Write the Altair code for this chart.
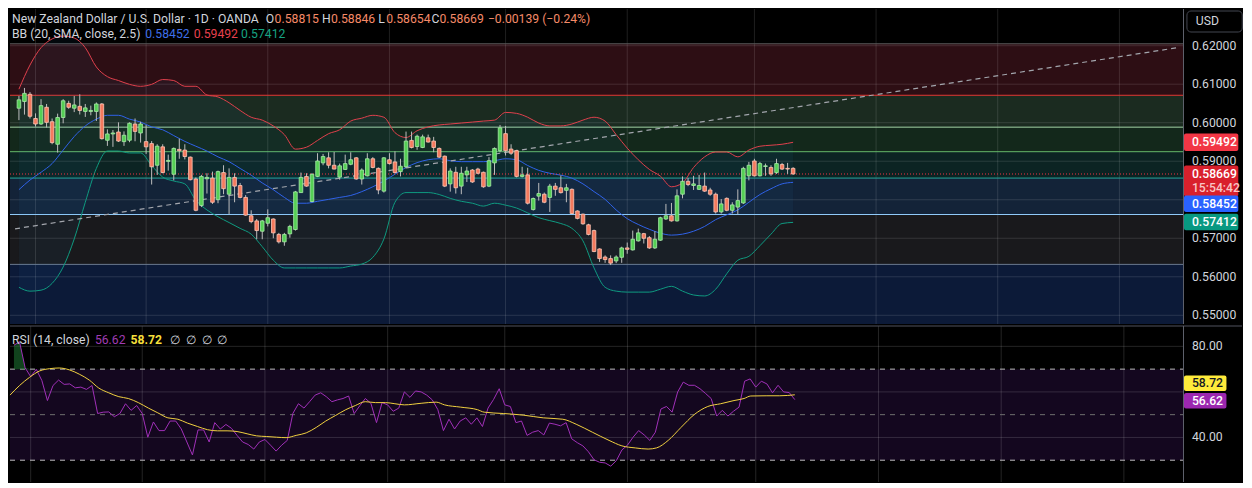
import altair as alt
import pandas as pd

# ---------------- data ----------------
opens = [0.60377, 0.60552, 0.60738, 0.60110, 0.59967, 0.60401, 0.60026, 0.59441, 0.60136, 0.60502,
         0.60377, 0.60426, 0.60293, 0.60293, 0.60293, 0.60487, 0.59545, 0.59709, 0.59759, 0.59509,
         0.59545, 0.59967, 0.59734, 0.59509, 0.59458, 0.58896, 0.59374, 0.58997, 0.58663, 0.59308,
         0.59290, 0.59107, 0.58539, 0.57852, 0.58545, 0.58563, 0.58002, 0.58706, 0.58144, 0.58580,
         0.58370, 0.58061, 0.57584, 0.57451, 0.57183, 0.57390, 0.57501, 0.57100, 0.56907, 0.57115,
         0.57228, 0.58186, 0.58606, 0.57953, 0.58606, 0.58957, 0.59089, 0.58896, 0.58588, 0.58788,
         0.58921, 0.59089, 0.58539, 0.58621, 0.59064, 0.58815, 0.58224, 0.59039, 0.58982, 0.58731,
         0.58856, 0.59541, 0.59383, 0.59358, 0.59608, 0.59524, 0.59333, 0.59132, 0.58412, 0.58713,
         0.58354, 0.58646, 0.58772, 0.58797, 0.58713, 0.58354, 0.58957, 0.59273, 0.59717, 0.59316,
         0.59273, 0.58606, 0.58646, 0.57745, 0.58094, 0.58144, 0.58061, 0.58354, 0.58311, 0.58244,
         0.58270, 0.57709, 0.57626, 0.57350, 0.57200, 0.56723, 0.56513, 0.56473, 0.56412, 0.56506,
         0.56749, 0.56698, 0.56932, 0.57120, 0.57015, 0.56749, 0.56950, 0.57501, 0.57584, 0.57451,
         0.58144, 0.58479, 0.58370, 0.58270, 0.58354, 0.58254, 0.58144, 0.57684, 0.58036, 0.57726,
         0.57810, 0.57917, 0.58621, 0.59007, 0.58621, 0.58864, 0.58839, 0.58706, 0.58914, 0.58815,
         0.58815]
highs = [0.60695, 0.60903, 0.60795, 0.60243, 0.60612, 0.60487, 0.60110, 0.60236, 0.60612, 0.60570,
         0.60695, 0.60738, 0.60487, 0.60444, 0.60527, 0.60512, 0.59828, 0.59810, 0.60010, 0.59775,
         0.60010, 0.60110, 0.60026, 0.59942, 0.59524, 0.59441, 0.59441, 0.59172, 0.59358, 0.59587,
         0.59441, 0.59122, 0.58580, 0.58646, 0.58688, 0.58731, 0.58756, 0.58896, 0.58815, 0.58688,
         0.58437, 0.58121, 0.57726, 0.57501, 0.57476, 0.57751, 0.57516, 0.57140, 0.57140, 0.57350,
         0.58229, 0.58706, 0.58688, 0.58688, 0.59208, 0.59190, 0.59233, 0.59240, 0.58939, 0.59172,
         0.59233, 0.59107, 0.58815, 0.59208, 0.59107, 0.58839, 0.59107, 0.59208, 0.59258, 0.59064,
         0.59770, 0.59770, 0.59691, 0.59691, 0.59691, 0.59633, 0.59358, 0.59148, 0.58815, 0.58856,
         0.58856, 0.58856, 0.58797, 0.58831, 0.58731, 0.59107, 0.59358, 0.59942, 0.59917, 0.59441,
         0.59298, 0.58856, 0.58831, 0.58057, 0.58437, 0.58186, 0.58412, 0.58437, 0.58631, 0.58412,
         0.58295, 0.57726, 0.57642, 0.57376, 0.57225, 0.56738, 0.56556, 0.56556, 0.56556, 0.56781,
         0.56889, 0.57200, 0.57250, 0.57140, 0.57058, 0.57183, 0.57559, 0.57892, 0.57917, 0.58270,
         0.58606, 0.58563, 0.58621, 0.58646, 0.58706, 0.58311, 0.58186, 0.58018, 0.58061, 0.57935,
         0.58270, 0.58856, 0.58982, 0.59064, 0.58982, 0.58939, 0.58896, 0.59064, 0.58957, 0.58957,
         0.58846]
lows = [0.60068, 0.60211, 0.60110, 0.59899, 0.59942, 0.59875, 0.59441, 0.59224, 0.59985, 0.60361,
        0.60276, 0.60214, 0.60151, 0.60193, 0.60043, 0.59562, 0.59399, 0.59374, 0.59499, 0.59399,
        0.59494, 0.59519, 0.59484, 0.59190, 0.58395, 0.58645, 0.58688, 0.58756, 0.58504, 0.59064,
        0.59047, 0.58504, 0.57701, 0.57810, 0.58161, 0.57892, 0.57910, 0.58144, 0.57621, 0.57935,
        0.58036, 0.57584, 0.57390, 0.56974, 0.56974, 0.57308, 0.57000, 0.56865, 0.56806, 0.57015,
        0.57200, 0.58180, 0.58337, 0.57935, 0.58588, 0.58896, 0.58815, 0.58790, 0.58521, 0.58771,
        0.58896, 0.58521, 0.58395, 0.58606, 0.58815, 0.58144, 0.58186, 0.58914, 0.58688, 0.58606,
        0.58815, 0.59333, 0.59298, 0.59340, 0.59484, 0.59233, 0.59082, 0.58329, 0.58211, 0.58161,
        0.58144, 0.58462, 0.58437, 0.58663, 0.58311, 0.58329, 0.58646, 0.59233, 0.59148, 0.59165,
        0.58580, 0.58580, 0.57877, 0.57720, 0.57978, 0.57910, 0.57684, 0.58103, 0.58161, 0.57935,
        0.57627, 0.57491, 0.57350, 0.57075, 0.56638, 0.56387, 0.56362, 0.56304, 0.56355, 0.56362,
        0.56598, 0.56681, 0.56914, 0.56864, 0.56723, 0.56723, 0.56932, 0.57476, 0.57433, 0.57433,
        0.58036, 0.58354, 0.58254, 0.58254, 0.58204, 0.58103, 0.57642, 0.57642, 0.57701, 0.57642,
        0.57619, 0.57892, 0.58504, 0.58606, 0.58606, 0.58621, 0.58621, 0.58671, 0.58772, 0.58671,
        0.58654]
closes = [0.60595, 0.60763, 0.60168, 0.59967, 0.60444, 0.60010, 0.59484, 0.60136, 0.60570, 0.60401,
          0.60462, 0.60319, 0.60386, 0.60319, 0.60487, 0.59587, 0.59709, 0.59734, 0.59524, 0.59675,
          0.59985, 0.59775, 0.59967, 0.59374, 0.58856, 0.59391, 0.58706, 0.59022, 0.59333, 0.59273,
          0.59122, 0.58521, 0.57726, 0.58606, 0.58580, 0.57935, 0.58731, 0.58287, 0.58580, 0.58354,
          0.58061, 0.57601, 0.57433, 0.57200, 0.57451, 0.57533, 0.57140, 0.56907, 0.57100, 0.57308,
          0.58204, 0.58580, 0.58354, 0.58663, 0.59007, 0.59122, 0.58896, 0.58797, 0.58881, 0.58939,
          0.59039, 0.58539, 0.58772, 0.59064, 0.58839, 0.58254, 0.59089, 0.58939, 0.58706, 0.58871,
          0.59524, 0.59358, 0.59649, 0.59633, 0.59499, 0.59358, 0.59107, 0.58354, 0.58746, 0.58311,
          0.58688, 0.58746, 0.58462, 0.58688, 0.58337, 0.59014, 0.59333, 0.59868, 0.59273, 0.59208,
          0.58606, 0.58646, 0.57910, 0.58032, 0.58161, 0.57935, 0.58354, 0.58270, 0.58186, 0.58311,
          0.57642, 0.57516, 0.57376, 0.57100, 0.56656, 0.56473, 0.56447, 0.56355, 0.56513, 0.56749,
          0.56713, 0.56975, 0.57140, 0.57000, 0.56749, 0.56975, 0.57533, 0.57584, 0.57451, 0.58103,
          0.58479, 0.58395, 0.58412, 0.58370, 0.58224, 0.58144, 0.57684, 0.57892, 0.57726, 0.57867,
          0.57978, 0.58815, 0.58896, 0.58621, 0.58939, 0.58881, 0.58671, 0.58939, 0.58797, 0.58797,
          0.58669]

bb_idx = list(range(0, 141, 2))
bb_upper = [0.60871, 0.61498, 0.61949, 0.62175, 0.62250, 0.62200, 0.61949, 0.61448, 0.61197, 0.61096,
            0.60996, 0.60946, 0.60996, 0.61122, 0.61096, 0.60946, 0.60946, 0.60720, 0.60670, 0.60519,
            0.60319, 0.60143, 0.60068, 0.59917, 0.59691, 0.59315, 0.59365, 0.59541, 0.59716, 0.59817,
            0.60043, 0.60118, 0.60193, 0.60143, 0.59742, 0.59616, 0.59792, 0.59892, 0.59942, 0.59967,
            0.59992, 0.60017, 0.60043, 0.60068, 0.60268, 0.60243, 0.60143, 0.59992, 0.59917, 0.59917,
            0.59967, 0.60068, 0.60143, 0.60043, 0.59691, 0.59340, 0.59039, 0.58788, 0.58613, 0.58337,
            0.58437, 0.58838, 0.59114, 0.59240, 0.59240, 0.59114, 0.59290, 0.59390, 0.59416, 0.59441,
            0.59492]
bb_mid = [0.58261, 0.58512, 0.58713, 0.58939, 0.59290, 0.59641, 0.59917, 0.60093, 0.60193, 0.60193,
          0.60093, 0.60018, 0.59892, 0.59817, 0.59666, 0.59516, 0.59390, 0.59265, 0.59114, 0.58989,
          0.58813, 0.58638, 0.58437, 0.58261, 0.58061, 0.57910, 0.57910, 0.57960, 0.58010, 0.58061,
          0.58111, 0.58211, 0.58337, 0.58487, 0.58663, 0.58838, 0.58964, 0.59039, 0.59064, 0.59014,
          0.58989, 0.58989, 0.58989, 0.59014, 0.59064, 0.59039, 0.58889, 0.58763, 0.58688, 0.58638,
          0.58562, 0.58412, 0.58211, 0.58010, 0.57735, 0.57509, 0.57358, 0.57233, 0.57132, 0.57082,
          0.57107, 0.57183, 0.57308, 0.57484, 0.57609, 0.57735, 0.57935, 0.58136, 0.58286, 0.58412,
          0.58452]
bb_lower = [0.55727, 0.55627, 0.55652, 0.55828, 0.56254, 0.56982, 0.57935, 0.58813, 0.59265, 0.59265,
            0.59215, 0.59215, 0.58889, 0.58588, 0.58487, 0.58412, 0.57985, 0.57735, 0.57559, 0.57408,
            0.57257, 0.57107, 0.56781, 0.56430, 0.56229, 0.56229, 0.56229, 0.56229, 0.56229, 0.56229,
            0.56279, 0.56330, 0.56505, 0.56982, 0.57935, 0.58186, 0.58186, 0.58186, 0.58136, 0.58036,
            0.57960, 0.57910, 0.57835, 0.57910, 0.57860, 0.57785, 0.57659, 0.57534, 0.57458, 0.57383,
            0.57257, 0.56932, 0.56229, 0.55727, 0.55627, 0.55602, 0.55602, 0.55602, 0.55677, 0.55752,
            0.55627, 0.55527, 0.55502, 0.55677, 0.56079, 0.56430, 0.56531, 0.56807, 0.57107, 0.57383,
            0.57412]

rsi_vals = [80.5, 82, 70.6, 66.7, 69.9, 65, 56.2, 62.8, 65.2, 63.3,
            63.5, 61.8, 62.1, 61.1, 62.8, 50.5, 51.1, 51.2, 49.1, 50.5,
            54.8, 51.9, 54, 50.5, 40.1, 46.8, 43, 43, 47.2, 47.2,
            43.7, 38, 32.3, 43.3, 43.3, 38, 46.5, 43.7, 45.7, 44,
            40.9, 38, 36.9, 34.9, 38, 39.1, 36.6, 34, 36.6, 38.7,
            50.5, 54.8, 52.9, 55.7, 58.6, 59.6, 57.9, 55.7, 56.5, 57.1,
            58.2, 50.5, 53.9, 57.1, 55, 46.5, 55.3, 54.3, 51.5, 52.9,
            60, 57.6, 60.4, 60, 58.6, 56.5, 52.2, 43, 48, 43.7,
            47.2, 48.6, 45.8, 48.6, 44.8, 52.9, 56.7, 61.4, 54.3, 53.6,
            46.5, 47.2, 40.9, 42.3, 43, 41.1, 46.3, 45.8, 45.1, 46.5,
            39.4, 37.7, 36.3, 33.7, 30.2, 29.1, 28.8, 27.4, 29.8, 34.5,
            36.6, 40.1, 43, 41.1, 38.7, 42.3, 52.5, 53.6, 51.1, 60,
            64.3, 62.9, 62.9, 61.4, 59.3, 57.1, 49.4, 51.9, 49.4, 51.5,
            53.3, 64.7, 65.7, 62.1, 64.7, 63.5, 59.6, 62.9, 60, 59.7,
            56.62]
rsi_ma_idx = [-0.7, 1, 2.8, 4.6, 6.4, 8.1, 9.9, 11.7, 13.5, 15.2, 17, 18.8, 20.5, 22.3, 24.1, 25.8,
              27.6, 29.4, 31.1, 32.9, 34.7, 36.5, 38.2, 40, 41.8, 43.5, 45.3, 47.1, 48.8, 50.6, 52.4,
              54.2, 55.9, 57.7, 59.5, 61.2, 63, 64.8, 66.6, 68.3, 70, 73, 75.7, 77.2, 80.1, 83.1, 84.3,
              87.8, 91.3, 94.9, 98.4, 100.8, 103.7, 106.7, 109, 111.4, 113.7, 115.2, 117.3, 119.6, 122,
              124.4, 126.7, 129.1, 130.9, 132.1, 135, 137.3, 140]
rsi_ma_vals = [58.6, 62.8, 66.4, 69.2, 70.2, 70.5, 69.7, 67.8, 65.2, 61.7, 59.6, 57.9, 57.1, 55.3, 52.9,
               50.8, 48.6, 48, 46.3, 44.8, 43.4, 42.9, 42.9, 42.6, 41.6, 40.7, 40.4, 40.1, 39.9, 40.9, 42,
               44.4, 47.2, 49.7, 52.2, 54, 55.7, 55.3, 55.3, 54.8, 54.3, 55, 55.5, 54.3, 53.3, 52.2, 51.1,
               50.5, 49.8, 48.6, 48, 45.8, 42.3, 38.7, 36.3, 35.4, 34.9, 35.4, 38.7, 44.4, 50.1, 53.6,
               54.8, 56.2, 57.1, 58.2, 58.3, 58.3, 58.72]

zone_levels = [0.62050, 0.60713, 0.59885, 0.59248, 0.58563, 0.57617, 0.56322]
trend_idx = [-0.7, 209.5]
trend_price = [0.57245, 0.61949]
price_grid = [0.55, 0.56, 0.57, 0.58, 0.59, 0.60, 0.61, 0.62]
price_labels = [0.55, 0.56, 0.57, 0.59, 0.60, 0.61, 0.62]
month_idx = [3, 23, 45, 67, 88, 110, 133, 155, 177, 199]
rsi_grid = [40, 60, 80]
rsi_labels = [40, 80]
rsi_bands = [70, 50, 30]
title_text = "New Zealand Dollar / U.S. Dollar · 1D · OANDA"
change_text = "\u22120.00139 (\u22120.24%)"
bb_text = "BB (20, SMA, close, 2.5)"
rsi_text = "RSI (14, close)"
clock_text = "15:54:42"

# ---------------- layout / style ----------------
FONT = "Roboto"
FS = 12.2
W_TOTAL = 1236
PW, PH, RH = 1173, 315, 156
SX, SYP, SYR = PW / 1188, PH / 326, RH / 161


def px(v):
    return v * SX


X_DOM = [-0.71, 209.6]
P_DOM = [0.54774, 0.62953]
R_DOM = [20.43, 88.94]
xs = alt.Scale(domain=X_DOM, nice=False, zero=False)
ys = alt.Scale(domain=P_DOM, nice=False, zero=False)
rs = alt.Scale(domain=R_DOM, nice=False, zero=False)

TXT = "#d1d4dc"
AXIS_LINE = "#5d606b"
UP, DOWN = "#55cf55", "#f47a5e"
UP_EDGE, DOWN_EDGE = "#a8eca8", "#ffc6b5"
ONE = pd.DataFrame({"k": [0]})


def label(s, x, y, color, size=FS, weight="normal"):
    return alt.Chart(ONE).mark_text(
        text=s, align="left", baseline="middle", font=FONT, fontSize=size,
        fontWeight=weight, color=color
    ).encode(x=alt.value(x), y=alt.value(y))


def tick_labels(values, scale, fmt):
    d = pd.DataFrame({"v": values})
    return alt.Chart(d).transform_calculate(
        t=f"format(datum.v, '{fmt}')"
    ).mark_text(align="left", baseline="middle", font=FONT, fontSize=FS, color=TXT).encode(
        x=alt.value(PW + 9), y=alt.Y("v:Q", scale=scale, axis=None), text="t:N")


def axis_line(h):
    return alt.Chart(ONE).mark_rule(color=AXIS_LINE, strokeWidth=1).encode(
        x=alt.value(PW + 0.5), y=alt.value(0), y2=alt.value(h))


# ---------------- price panel ----------------
zone_fill = ["#2d0e14", "#1b2b20", "#13281b", "#0c2423", "#132338", "#19191c", "#0c1a38"]
zone_line = ["#5a5a5a", "#e53935", "#a5d6a7", "#66bb6a", "#26a69a", "#90caf9", "#6b7a90"]
zdf = pd.DataFrame({
    "top": zone_levels,
    "bottom": zone_levels[1:] + [P_DOM[0]],
    "fill": zone_fill,
    "line": zone_line,
})

zones = alt.Chart(zdf).mark_rect().encode(
    x=alt.value(0), x2=alt.value(PW),
    y=alt.Y("top:Q", scale=ys, axis=None), y2="bottom:Q",
    fill=alt.Fill("fill:N", scale=None),
)
hgrid = alt.Chart(pd.DataFrame({"p": price_grid})).mark_rule(
    color="white", opacity=0.12, strokeWidth=1
).encode(y=alt.Y("p:Q", scale=ys, axis=None), x=alt.value(0), x2=alt.value(PW))
vgrid = alt.Chart(pd.DataFrame({"m": month_idx})).mark_rule(
    color="white", opacity=0.12, strokeWidth=1
).encode(x=alt.X("m:Q", scale=xs, axis=None), y=alt.value(0), y2=alt.value(PH))
zlines = alt.Chart(zdf).mark_rule(strokeWidth=1).encode(
    y=alt.Y("top:Q", scale=ys, axis=None), x=alt.value(0), x2=alt.value(PW),
    color=alt.Color("line:N", scale=None),
)

bdf = pd.DataFrame({"i": bb_idx, "up": bb_upper, "mid": bb_mid, "lo": bb_lower})
bb_fill = alt.Chart(bdf).mark_area(color="#2196f3", opacity=0.05, interpolate="monotone").encode(
    x=alt.X("i:Q", scale=xs, axis=None), y=alt.Y("up:Q", scale=ys, axis=None), y2="lo:Q")


def bb_line(field, color):
    return alt.Chart(bdf).mark_line(color=color, strokeWidth=1, interpolate="monotone").encode(
        x=alt.X("i:Q", scale=xs, axis=None), y=alt.Y(f"{field}:Q", scale=ys, axis=None))


trend = alt.Chart(pd.DataFrame({"i": trend_idx, "p": trend_price})).mark_line(
    color="#a3a6ad", strokeWidth=1.2, strokeDash=[5, 4]
).encode(x=alt.X("i:Q", scale=xs, axis=None), y=alt.Y("p:Q", scale=ys, axis=None))

pline = alt.Chart(pd.DataFrame({"p": [closes[-1]]})).mark_rule(
    color="#f23645", strokeWidth=1, strokeDash=[1, 2]
).encode(y=alt.Y("p:Q", scale=ys, axis=None), x=alt.value(0), x2=alt.value(PW))

cdf = pd.DataFrame({"i": list(range(len(opens))), "open": opens, "high": highs,
                    "low": lows, "close": closes})
cdf["dir"] = ["up" if c >= o else "down" for o, c in zip(opens, closes)]

wicks = alt.Chart(cdf).mark_rule(color="#bdbdbd", strokeWidth=1).encode(
    x=alt.X("i:Q", scale=xs, axis=None), y=alt.Y("high:Q", scale=ys, axis=None), y2="low:Q")
bodies = alt.Chart(cdf).mark_bar(size=3.6, strokeWidth=0.8).encode(
    x=alt.X("i:Q", scale=xs, axis=None),
    y=alt.Y("open:Q", scale=ys, axis=None), y2="close:Q",
    fill=alt.Fill("dir:N", scale=alt.Scale(domain=["up", "down"], range=[UP, DOWN]), legend=None),
    stroke=alt.Stroke("dir:N", scale=alt.Scale(domain=["up", "down"], range=[UP_EDGE, DOWN_EDGE]),
                      legend=None),
)

y1, y2 = 10 * SYP, 26 * SYP
ohlc_col = "#f58a68"
legend_layers = [
    label(title_text, px(2), y1, TXT),
    label("O", px(259), y1, TXT), label(f"{opens[-1]:.5f}", px(268), y1, ohlc_col),
    label("H", px(316), y1, TXT), label(f"{highs[-1]:.5f}", px(325), y1, ohlc_col),
    label("L", px(373), y1, TXT), label(f"{lows[-1]:.5f}", px(381), y1, ohlc_col),
    label("C", px(427), y1, TXT), label(f"{closes[-1]:.5f}", px(435), y1, ohlc_col),
    label(change_text, px(484), y1, ohlc_col),
    label(bb_text, px(2), y2, TXT),
    label(f"{bb_mid[-1]:.5f}", px(137), y2, "#3f6fe8"),
    label(f"{bb_upper[-1]:.5f}", px(186), y2, "#e8404e"),
    label(f"{bb_lower[-1]:.5f}", px(234), y2, "#17a383"),
]

usd_box = alt.Chart(ONE).mark_rect(fill="#000000", stroke="#434651", strokeWidth=1,
                                   cornerRadius=4).encode(
    x=alt.value(px(1192)), x2=alt.value(px(1248)), y=alt.value(2), y2=alt.value(23))
usd_txt = label("USD", px(1201), 12.5 * SYP, TXT, size=FS)


def price_box(value, fill, top, bot):
    d = pd.DataFrame({"p": [value]})
    return alt.Chart(d).mark_rect(fill=fill, yOffset=top * SYP, y2Offset=bot * SYP,
                                  cornerRadius=2).encode(
        x=alt.value(PW + 1), x2=alt.value(px(1244)),
        y=alt.Y("p:Q", scale=ys, axis=None), y2="p:Q")


def price_box_text(value, s, shift, color="#ffffff"):
    d = pd.DataFrame({"p": [value]})
    return alt.Chart(d).mark_text(text=s, align="left", baseline="middle", font=FONT,
                                  fontSize=FS, fontWeight=500, color=color,
                                  yOffset=shift * SYP).encode(
        x=alt.value(px(1197)), y=alt.Y("p:Q", scale=ys, axis=None))


box_layers = [
    price_box(bb_upper[-1], "#f23645", -9, 9),
    price_box_text(bb_upper[-1], f"{bb_upper[-1]:.5f}", 0),
    price_box(closes[-1], "#d9202c", -8.8, 23.2),
    price_box_text(closes[-1], f"{closes[-1]:.5f}", 0.2),
    price_box_text(closes[-1], clock_text, 14.2, "#f8c4c4"),
    price_box(bb_mid[-1], "#2962ff", 13.6, 30.6),
    price_box_text(bb_mid[-1], f"{bb_mid[-1]:.5f}", 22.1),
    price_box(bb_lower[-1], "#089981", -8.9, 8.1),
    price_box_text(bb_lower[-1], f"{bb_lower[-1]:.5f}", -0.4),
]

price_panel = alt.layer(
    zones, hgrid, vgrid, zlines, bb_fill,
    bb_line("up", "#e0404c"), bb_line("mid", "#2f62e8"), bb_line("lo", "#0f9a80"),
    trend, pline, wicks, bodies, *legend_layers, usd_box, usd_txt,
    axis_line(PH), tick_labels(price_labels, ys, ".5f"), *box_layers
).properties(width=PW, height=PH)

# ---------------- RSI panel ----------------
band = alt.Chart(pd.DataFrame({"a": [rsi_bands[0]], "b": [rsi_bands[2]]})).mark_rect(
    fill="#14071f").encode(
    x=alt.value(0), x2=alt.value(PW), y=alt.Y("a:Q", scale=rs, axis=None), y2="b:Q")
r_hgrid = alt.Chart(pd.DataFrame({"v": rsi_grid})).mark_rule(
    color="white", opacity=0.14, strokeWidth=1
).encode(y=alt.Y("v:Q", scale=rs, axis=None), x=alt.value(0), x2=alt.value(PW))
r_vgrid = alt.Chart(pd.DataFrame({"m": month_idx})).mark_rule(
    color="white", opacity=0.14, strokeWidth=1
).encode(x=alt.X("m:Q", scale=xs, axis=None), y=alt.value(0), y2=alt.value(RH))
ddf = pd.DataFrame({"v": rsi_bands, "c": ["#bdbdbd", "#6f6f6f", "#bdbdbd"]})
dashes = alt.Chart(ddf).mark_rule(strokeWidth=1, strokeDash=[5, 5]).encode(
    y=alt.Y("v:Q", scale=rs, axis=None), x=alt.value(0), x2=alt.value(PW),
    color=alt.Color("c:N", scale=None))

rdf = pd.DataFrame({"i": list(range(len(rsi_vals))), "rsi": rsi_vals})
ob_fill = alt.Chart(rdf).transform_calculate(
    ob="max(datum.rsi, 70)", base="70"
).mark_area(color="#1f7a34", opacity=0.55).encode(
    x=alt.X("i:Q", scale=xs, axis=None), y=alt.Y("ob:Q", scale=rs, axis=None), y2="base:Q")
rsi_line = alt.Chart(rdf).mark_line(color="#a030b8", strokeWidth=1).encode(
    x=alt.X("i:Q", scale=xs, axis=None), y=alt.Y("rsi:Q", scale=rs, axis=None))
ma_line = alt.Chart(pd.DataFrame({"i": rsi_ma_idx, "v": rsi_ma_vals})).mark_line(
    color="#f0d040", strokeWidth=1, interpolate="monotone").encode(
    x=alt.X("i:Q", scale=xs, axis=None), y=alt.Y("v:Q", scale=rs, axis=None))

sep = alt.Chart(ONE).mark_rule(color="#50535e", strokeWidth=1).encode(
    x=alt.value(0), x2=alt.value(W_TOTAL - 4), y=alt.value(0))

ry = (341 - 327) * SYR
rsi_legend = [
    label(rsi_text, px(2), ry, TXT),
    label(f"{rsi_vals[-1]:.2f}", px(86), ry, "#a03cb4"),
    label(f"{rsi_ma_vals[-1]:.2f}", px(122), ry, "#f5df3a", weight="bold"),
    label("\u2205", px(162), ry, TXT), label("\u2205", px(178), ry, TXT),
    label("\u2205", px(194), ry, TXT), label("\u2205", px(210), ry, TXT),
]


def rsi_box(value, fill, top, bot):
    d = pd.DataFrame({"v": [value]})
    return alt.Chart(d).mark_rect(fill=fill, yOffset=top * SYR, y2Offset=bot * SYR,
                                  cornerRadius=2).encode(
        x=alt.value(PW + 1), x2=alt.value(px(1232)),
        y=alt.Y("v:Q", scale=rs, axis=None), y2="v:Q")


def rsi_box_text(value, s, shift, color):
    d = pd.DataFrame({"v": [value]})
    return alt.Chart(d).mark_text(text=s, align="left", baseline="middle", font=FONT,
                                  fontSize=FS, fontWeight=500, color=color,
                                  yOffset=shift * SYR).encode(
        x=alt.value(px(1197)), y=alt.Y("v:Q", scale=rs, axis=None))


rsi_boxes = [
    rsi_box(rsi_ma_vals[-1], "#ffeb3b", -20, -4),
    rsi_box_text(rsi_ma_vals[-1], f"{rsi_ma_vals[-1]:.2f}", -12, "#131722"),
    rsi_box(rsi_vals[-1], "#9c27b0", -6.9, 9.1),
    rsi_box_text(rsi_vals[-1], f"{rsi_vals[-1]:.2f}", 1.1, "#ffffff"),
]

rsi_panel = alt.layer(
    band, r_hgrid, r_vgrid, dashes, ob_fill, rsi_line, ma_line, sep, *rsi_legend,
    axis_line(RH), tick_labels(rsi_labels, rs, ".2f"), *rsi_boxes
).properties(width=PW, height=RH)

chart = alt.vconcat(price_panel, rsi_panel, spacing=0).properties(
    padding=0, background="#000000"
).configure_view(strokeWidth=0)

chart.save("out.html", embed_options={"renderer": "svg", "actions": False})
